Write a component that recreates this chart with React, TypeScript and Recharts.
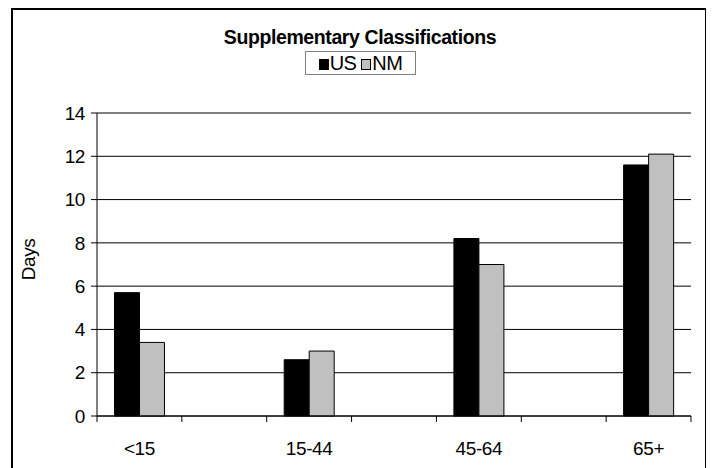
import React from 'react';
import { BarChart, Bar, XAxis, YAxis, CartesianGrid } from 'recharts';

const categories = ['<15', '', '15-44', '', '45-64', '', '65+'];
const usValues: (number | null)[] = [5.7, null, 2.6, null, 8.2, null, 11.6];
const nmValues: (number | null)[] = [3.4, null, 3.0, null, 7.0, null, 12.1];
const yTicks = [0, 2, 4, 6, 8, 10, 12, 14];
const seriesNames = ['US', 'NM'];
const titleText = 'Supplementary Classifications';
const yAxisTitle = 'Days';

const data = categories.map((c, i) => ({
  key: c === '' ? `gap${i}` : c,
  label: c,
  US: usValues[i],
  NM: nmValues[i],
}));

const FONT = 'Arial, "Liberation Sans", Helvetica, sans-serif';
const FS = 19;
const LS = -0.4;
const CHART_W = 698;
const CHART_H = 460;
const MARGIN = { top: 105, right: 15, left: 29, bottom: 12 };
const Y_AXIS_W = 60;
const X_AXIS_H = 40;
const PLOT_W = CHART_W - MARGIN.left - MARGIN.right - Y_AXIS_W;

const XTick = (props: any) => {
  const { x, y, payload, index } = props;
  const half = payload && payload.offset ? payload.offset : PLOT_W / categories.length / 2;
  const label = categories[index] ?? '';
  const isLast = index === categories.length - 1;
  return (
    <g>
      <line x1={x - half} x2={x - half} y1={y - 6} y2={y} stroke="#000" strokeWidth={1} />
      {isLast && <line x1={x + half} x2={x + half} y1={y - 6} y2={y} stroke="#000" strokeWidth={1} />}
      <text x={x} y={y + 26} textAnchor="middle" dominantBaseline="central" fontSize={FS} letterSpacing={LS} fontFamily={FONT} fill="#000">
        {label}
      </text>
    </g>
  );
};

const YLabel = (props: any) => {
  const vb = props.viewBox || {};
  const cx = (vb.x ?? 0) - 9;
  const cy = MARGIN.top + (CHART_H - MARGIN.top - MARGIN.bottom - X_AXIS_H) / 2 - 5;
  return (
    <text x={cx} y={cy} transform={`rotate(-90 ${cx} ${cy})`} textAnchor="middle" dominantBaseline="central" fontSize={FS} letterSpacing={LS} fontFamily={FONT} fill="#000">
      {yAxisTitle}
    </text>
  );
};

export default function App() {
  return (
    <div style={{ position: 'relative', width: CHART_W, height: CHART_H, fontFamily: FONT }}>
      <div style={{ position: 'absolute', left: 3, top: 0, width: 696, height: 480, border: '2px solid #000', boxSizing: 'border-box', pointerEvents: 'none' }} />
      <div style={{ position: 'absolute', left: 152, top: 17, width: 400, textAlign: 'center', fontWeight: 'bold', fontSize: 19.5, lineHeight: '24px', color: '#000', letterSpacing: -0.4 }}>
        {titleText}
      </div>
      <div style={{ position: 'absolute', left: 297, top: 43, width: 111, height: 24, border: '1px solid #808080', boxSizing: 'border-box', display: 'flex', alignItems: 'center', justifyContent: 'center', fontSize: 20, lineHeight: '22px', color: '#000', background: '#fff', letterSpacing: -0.6 }}>
        <span style={{ display: 'inline-block', width: 10, height: 11, background: '#000', border: '1px solid #000', boxSizing: 'border-box', marginRight: 1, marginTop: 3 }} />
        <span style={{ marginRight: 5 }}>{seriesNames[0]}</span>
        <span style={{ display: 'inline-block', width: 10, height: 11, background: '#c0c0c0', border: '1px solid #000', boxSizing: 'border-box', marginRight: 1, marginTop: 3 }} />
        <span>{seriesNames[1]}</span>
      </div>
      <BarChart width={CHART_W} height={CHART_H} data={data} margin={MARGIN} barCategoryGap="20.6%" barGap={0}>
        <CartesianGrid vertical={false} stroke="#000" strokeWidth={1} />
        <XAxis
          dataKey="key"
          height={X_AXIS_H}
          interval={0}
          tickSize={6}
          tickMargin={0}
          tickLine={false}
          axisLine={{ stroke: '#000' }}
          tick={<XTick />}
        />
        <XAxis xAxisId="top" orientation="top" dataKey="key" height={0} tick={false} tickLine={false} axisLine={{ stroke: '#808080' }} />
        <YAxis
          width={Y_AXIS_W}
          domain={[0, 14]}
          ticks={yTicks}
          interval={0}
          tickSize={6}
          tickMargin={6}
          axisLine={{ stroke: '#000' }}
          tickLine={{ stroke: '#000' }}
          tick={{ fontSize: FS, fontFamily: FONT, fill: '#000', letterSpacing: LS }}
          label={<YLabel />}
        />
        <YAxis yAxisId="r" orientation="right" width={0} domain={[0, 14]} tick={false} tickLine={false} axisLine={{ stroke: '#808080' }} />
        <Bar dataKey="US" name={seriesNames[0]} fill="#000" stroke="#000" strokeWidth={1} isAnimationActive={false} />
        <Bar dataKey="NM" name={seriesNames[1]} fill="#c0c0c0" stroke="#000" strokeWidth={1} isAnimationActive={false} />
      </BarChart>
    </div>
  );
}
